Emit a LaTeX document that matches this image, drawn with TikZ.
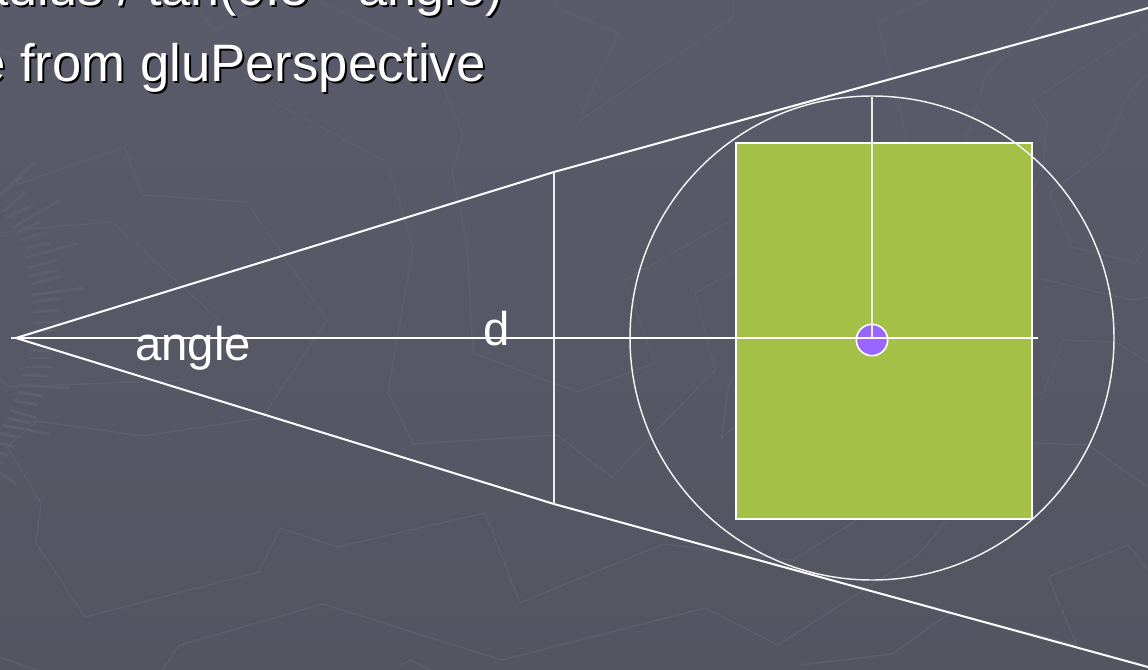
\documentclass[tikz,border=0pt]{standalone}
\usepackage{fontspec}
\setmainfont{Liberation Sans}
\definecolor{bgtop}{HTML}{595B6A}
\definecolor{bgbot}{HTML}{535561}
\definecolor{faint}{HTML}{5D5F6C}
\definecolor{hatch}{HTML}{5D5F6C}
\definecolor{boxgreen}{HTML}{A5C046}
\definecolor{dotviolet}{HTML}{9966FF}
\tikzset{
  faintline/.style={draw=faint,line width=1.1pt,line join=miter},
  hatchbar/.style={draw=hatch,line width=2.2pt},
  wline/.style={draw=white,line width=1.5pt},
  thin wline/.style={draw=white!92!black,line width=1.5pt},
  bullettext/.style={font=\fontsize{39.5pt}{39.5pt}\selectfont,text=white,inner sep=0pt,anchor=base east},
  shadowtext/.style={bullettext,text=black},
  firstline/.style={font=\fontsize{39pt}{39pt}\selectfont},
  labeltext/.style={font=\fontsize{35.5pt}{35.5pt}\selectfont,text=white,inner sep=0pt,anchor=base west},
}
\begin{document}
\begin{tikzpicture}[x=0.75pt,y=-0.75pt]
\useasboundingbox (0,0) rectangle (1148,670);
\clip (0,0) rectangle (1148,670);
\shade[top color=bgtop,bottom color=bgbot] (0,0) rectangle (1148,670);
% background texture
\draw[faintline] (15,185)--(125,147)--(142,195)--(247,202)--(327,320)--(262,418)--(143,436)--(37,421)--(7,447)--(41,503)--(36,543)--(85,617)--(259,572)--(281,528)--(337,547)--(485,513)--(520,603)--(663,544)--(793,560)--(857,520);
\draw[faintline] (0,233)--(37,228)--(112,222)--(217,318)--(182,380)--(10,387)--(0,380);
\draw[faintline] (270,100)--(387,162)--(413,247)--(388,393)--(413,444)--(557,435)--(612,477)--(715,370)--(695,293)--(737,270);
\draw[faintline] (317,0)--(400,40)--(440,80)--(463,135)--(452,172)--(467,243)--(473,353)--(578,392)--(655,363)--(625,280)--(737,217);
\draw[faintline] (555,0)--(555,7)--(618,33)--(578,122)--(733,17)--(733,0);
\draw[faintline] (162,670)--(180,645)--(323,604)--(502,660)--(705,608)--(778,645)--(918,555)--(945,522);
\draw[faintline] (0,657)--(35,670);
\draw[faintline] (400,666)--(410,660)--(430,670);
\draw[faintline] (800,665)--(892,654)--(950,613)--(1077,645);
\draw[faintline] (1148,570)--(1128,545)--(1048,577)--(1077,645);
\draw[faintline] (1033,393)--(1043,393)--(1063,340)--(1115,342)--(1148,362);
\draw[faintline] (1033,443)--(1088,445)--(1148,487);
\draw[faintline] (928,0)--(878,22)--(907,140);
\draw[faintline] (1057,0)--(985,78)--(965,143);
\draw[faintline] (1148,27)--(1032,100)--(1047,123)--(1043,167)--(1033,190);
\draw[faintline] (1148,75)--(1133,87)--(1102,153)--(1050,193)--(1072,247)--(1135,263)--(1148,240);
\draw[faintline] (1033,277)--(1132,300)--(1148,297);
\draw[faintline] (733,377)--(728,387)--(722,438)--(736,425);
\draw[faintline] (0,50)--(100,85);
\draw[faintline] (192,3)--(215,30)--(253,10);
\foreach \a/\b/\c/\d in {5/190/35/162,0/195/22/177,3/212/25/192,7/218/33/205,12/228/60/200,18/232/40/222,20/240/47/232,25/248/50/243,25/258/78/243,28/268/57/260,30/276/58/270,32/284/60/277,32/295/85/288,33/302/60/298,33/312/60/310,33/323/60/322,33/331/57/330,30/350/50/351,28/358/52/358,25/367/52/367,22/375/48/376,17/385/70/388,17/392/43/396,13/400/38/405,10/410/37/418,7/418/30/423,2/425/50/434,0/433/20/438,0/443/14/447,0/453/8/456,0/462/3/464,0/473/16/483}
  \draw[hatchbar] (\a,\b)--(\c,\d);
% geometry
\coordinate (apex) at (16,338);
\coordinate (axisstart) at (11,338);
\coordinate (axisend) at (1038,338);
\coordinate (upmid) at (554,172);
\coordinate (lowmid) at (554,504);
\coordinate (upend) at (1148,8);
\coordinate (lowend) at (1148,667);
\coordinate (sphtop) at (872,97);
\coordinate (centre) at (872,338);
\node[draw=white,line width=1.5pt,fill=boxgreen,inner sep=0pt,outer sep=0pt,minimum width=222pt,minimum height=282pt,anchor=north west] (box) at (736,143) {};
\node[draw=white!95!black,line width=1.1pt,circle,inner sep=0pt,outer sep=0pt,minimum size=363pt] (sphere) at (872,338) {};
\node[draw=white,line width=1.2pt,fill=dotviolet,circle,inner sep=0pt,outer sep=0pt,minimum size=23.5pt] (dot) at (872,340) {};
\draw[wline] (apex)--(upmid)--(upend);
\draw[wline] (apex)--(lowmid)--(lowend);
\draw[thin wline] (upmid)--(lowmid);
\draw[thin wline] (sphtop)--(centre);
\draw[draw=white,line width=1.9pt] (axisstart)--(axisend);
% labels
\node[labeltext] (anglelabel) at (135,360) {angle};
\node[labeltext] (dlabel) at (483,345) {d};
\node[shadowtext,firstline] (line1s) at (505,8) {radius / tan(0.5 * angle)};
\node[shadowtext] (line2s) at (488,84) {angle from gluPerspective};
\node[bullettext,firstline] (line1) at (503,6) {radius / tan(0.5 * angle)};
\node[bullettext] (line2) at (486,82) {angle from gluPerspective};
\end{tikzpicture}
\end{document}
